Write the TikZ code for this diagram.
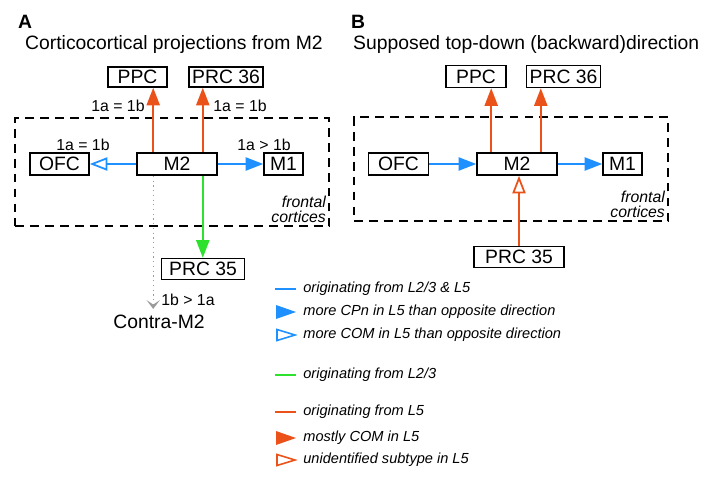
\documentclass[tikz,border=0pt]{standalone}
\usepackage{fontspec}
\setmainfont{Liberation Sans}
\usetikzlibrary{arrows.meta}
\definecolor{cpblue}{RGB}{30,144,255}
\definecolor{cporange}{RGB}{234,82,26}
\definecolor{cpgreen}{RGB}{45,225,45}
\definecolor{cpgray}{RGB}{155,155,155}
\newcommand{\fsz}[1]{\fontsize{#1}{#1}\selectfont}

\begin{document}
\begin{tikzpicture}[x=0.02cm,y=-0.02cm,
	area/.style={draw,line width=0.9pt,minimum height=0.44cm,inner sep=0pt,font=\fsz{11}},
	frontal/.style={draw,dash pattern=on 5pt off 3.5pt,line width=0.9pt},
	proj/.style={line width=1pt},
	full/.style={-{Triangle[length=10pt,width=7.5pt]}},
	hollow/.style={-{Triangle[open,length=10pt,width=7.5pt]}},
	note/.style={font=\fsz{9}},
	ftext/.style={anchor=south east,align=right,font=\itshape\fontsize{9}{8.5}\selectfont,inner sep=2pt},
	legtext/.style={anchor=west,font=\itshape\fsz{8.3},inner sep=0pt}]
\useasboundingbox (0,0) rectangle (705,483);
% panel A
\node[anchor=west,font=\bfseries\fsz{11}] (labA) at (12,22) {A};
\node[anchor=west,font=\fsz{11}] (titA) at (19,45) {Corticocortical projections from M2};
\node[frontal,minimum width=6.28cm,minimum height=2.16cm] (frA) at (172,172) {};
\node[ftext] (frtA) at (frA.south east) {frontal\\cortices};
\node[area,minimum width=1.18cm,minimum height=0.4cm] (ppcA) at (137.5,77) {PPC};
\node[area,minimum width=1.48cm,minimum height=0.4cm] (prcA) at (226,77) {PRC 36};
\node[area,minimum width=1.18cm] (ofcA) at (59.5,164) {OFC};
\node[area,minimum width=1.6cm] (m2A) at (177,164) {M2};
\node[area,minimum width=0.78cm] (m1A) at (283.5,164) {M1};
\node[area,minimum width=1.66cm,minimum height=0.42cm] (pcaA) at (203,269) {PRC 35};
\node[font=\fsz{11}] (contra) at (159,322) {Contra-M2};
\coordinate (a1) at ([xshift=0.34cm]m2A.north west);
\coordinate (a2) at ([xshift=-0.3cm]m2A.north east);
\draw[proj,cporange,full] (a1) -- (a1 |- ppcA.south);
\draw[proj,cporange,full] (a2) -- (a2 |- prcA.south);
\draw[proj,cpblue,hollow] (m2A) -- (ofcA);
\draw[proj,cpblue,full] (m2A) -- (m1A);
\draw[proj,cpgreen,full] (a2 |- m2A.south) -- (a2 |- pcaA.north);
\draw[cpgray,line width=0.7pt,dotted,-{Stealth[length=5pt,width=7.5pt,inset=2.5pt]}] (a1 |- m2A.south) -- (a1 |- contra.north);
\node[note] (nA1) at (118,106) {1a = 1b};
\node[note] (nA2) at (240,106) {1a = 1b};
\node[note] (nA3) at (83,145) {1a = 1b};
\node[note] (nA4) at (264,145) {1a > 1b};
\node[note] (nA5) at (188,300) {1b > 1a};
% panel B
\node[anchor=west,font=\bfseries\fsz{11}] (labB) at (345,22) {B};
\node[anchor=west,font=\fsz{11}] (titB) at (347,45) {Supposed top-down (backward)direction};
\node[frontal,minimum width=6.28cm,minimum height=2.08cm] (frB) at (511,169) {};
\node[ftext] (frtB) at (frB.south east) {frontal\\cortices};
\node[area,minimum width=1.2cm] (ppcB) at (476,76.5) {PPC};
\node[area,minimum width=1.48cm] (prcB) at (563.5,76.5) {PRC 36};
\node[area,minimum width=1.2cm] (ofcB) at (398.5,164) {OFC};
\node[area,minimum width=1.6cm] (m2B) at (517,164) {M2};
\node[area,minimum width=0.78cm] (m1B) at (622.5,164) {M1};
\node[area,minimum width=1.8cm,minimum height=0.42cm] (pcaB) at (519,257) {PRC 35};
\coordinate (b1) at ([xshift=0.3cm]m2B.north west);
\coordinate (b2) at ([xshift=-0.34cm]m2B.north east);
\draw[proj,cporange,full] (b1) -- (b1 |- ppcB.south);
\draw[proj,cporange,full] (b2) -- (b2 |- prcB.south);
\draw[proj,cpblue,full] (ofcB) -- (m2B);
\draw[proj,cpblue,full] (m2B) -- (m1B);
\draw[proj,cporange,hollow] (pcaB.north) -- (pcaB.north |- m2B.south);
% legend
\draw[proj,cpblue] (275,289) -- (296,289);
\fill[cpblue] (276,305) -- (296,312) -- (276,319) -- cycle;
\draw[cpblue,line width=0.9pt] (277,329.5) -- (295,335) -- (277,340.5) -- cycle;
\draw[proj,cpgreen] (275,375) -- (296,375);
\draw[proj,cporange] (275,412) -- (296,412);
\fill[cporange] (276,431) -- (296,438) -- (276,445) -- cycle;
\draw[cporange,line width=0.9pt] (277,454.5) -- (295,460) -- (277,465.5) -- cycle;
\node[legtext] (lg1) at (303,289) {originating from L2/3 \& L5};
\node[legtext] (lg2) at (303,312) {more CPn in L5 than opposite direction};
\node[legtext] (lg3) at (303,335) {more COM in L5 than opposite direction};
\node[legtext] (lg4) at (303,375) {originating from L2/3};
\node[legtext] (lg5) at (303,412) {originating from L5};
\node[legtext] (lg6) at (303,438) {mostly COM in L5};
\node[legtext] (lg7) at (303,460) {unidentified subtype in L5};
\end{tikzpicture}
\end{document}
